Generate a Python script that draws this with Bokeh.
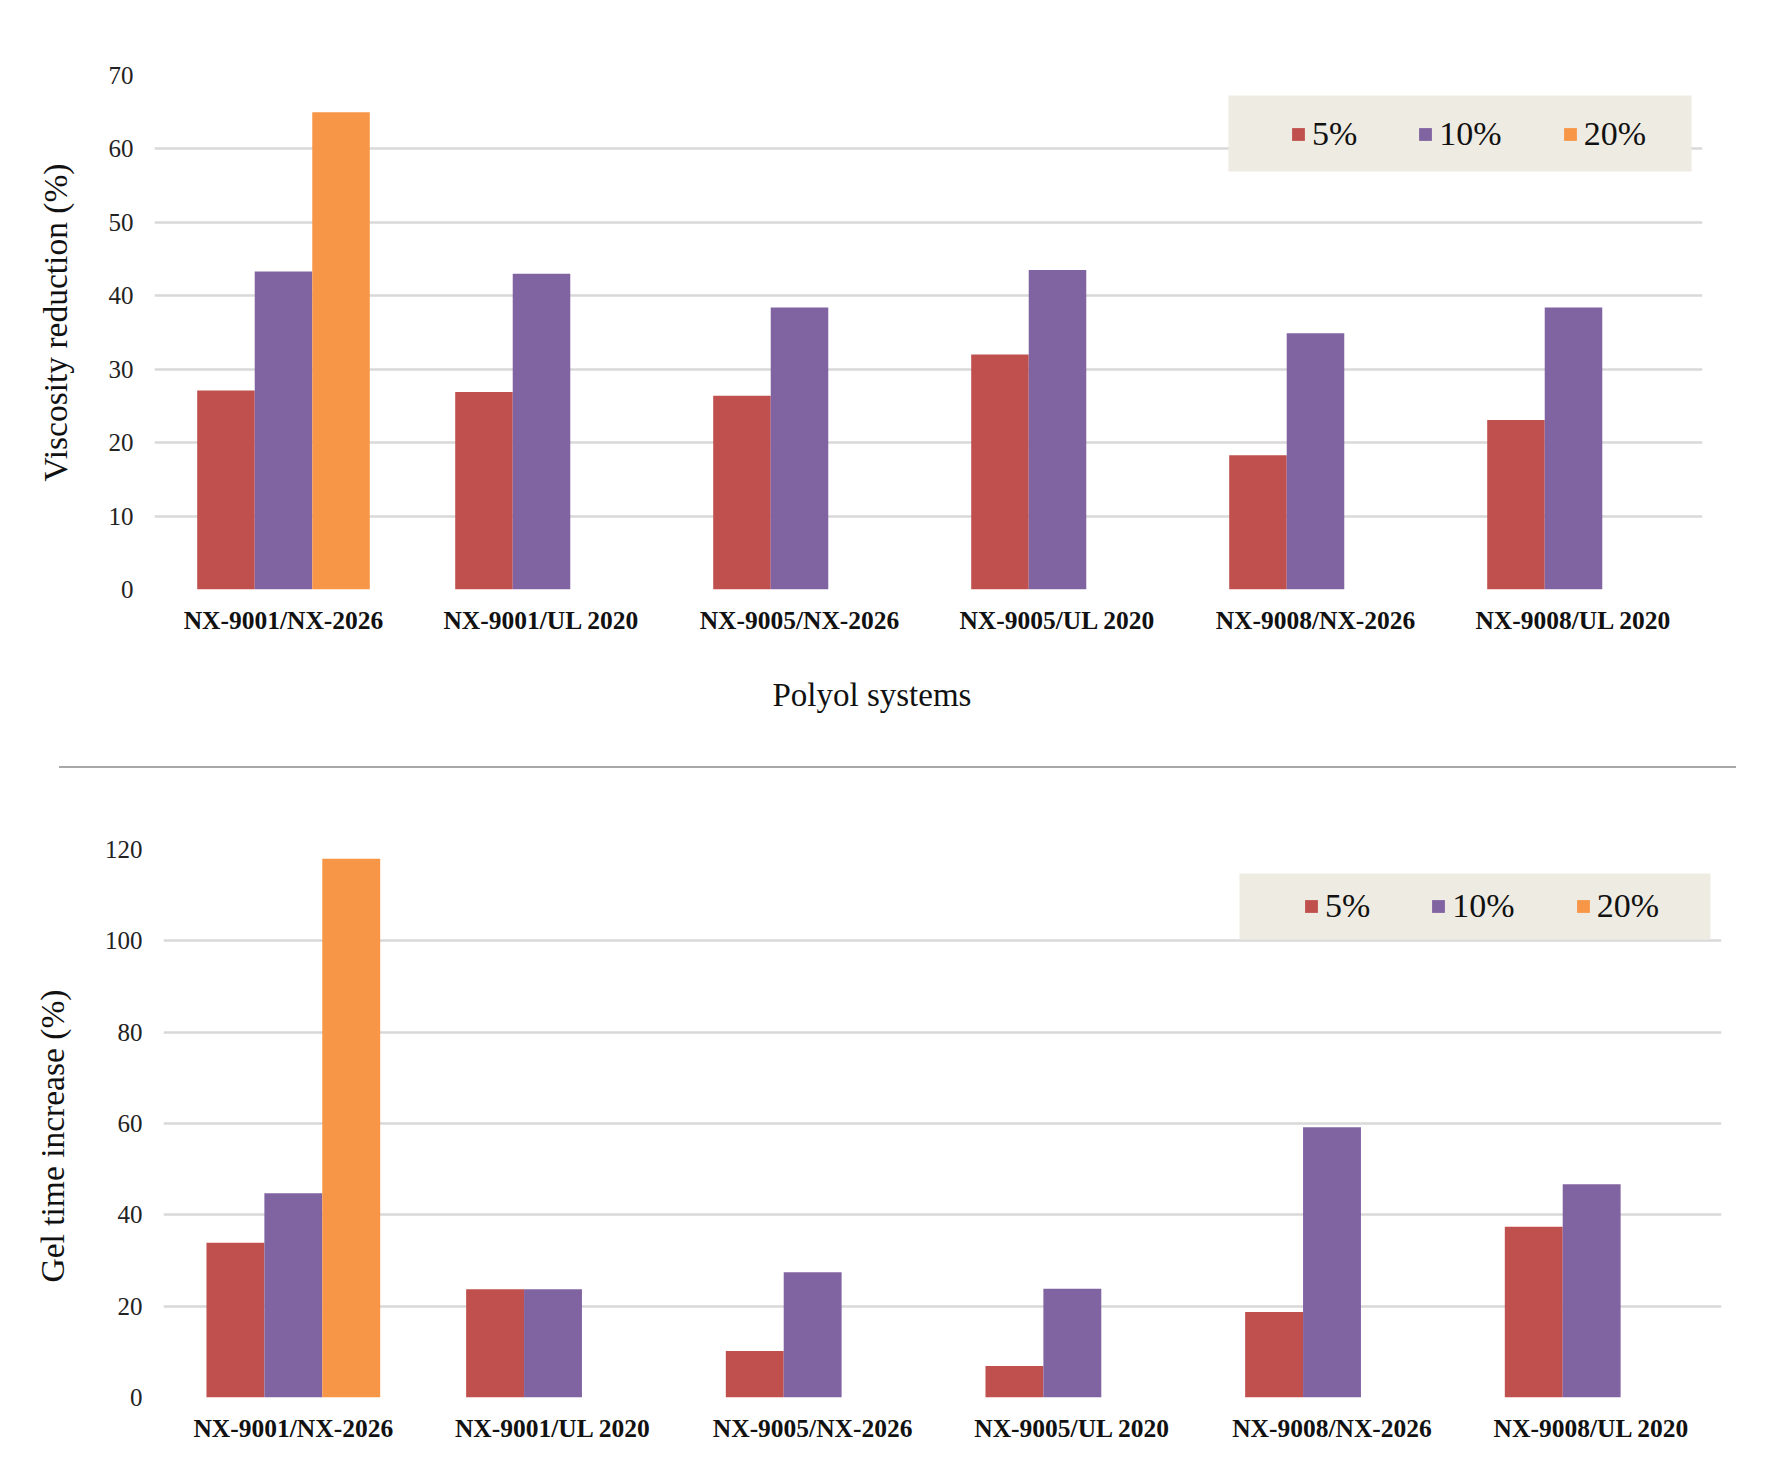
import math
from bokeh.plotting import figure
from bokeh.models import (ColumnDataSource, FactorRange, Range1d, FixedTicker,
                          Legend, LegendItem, BoxAnnotation, Title, Div)
from bokeh.layouts import column
from bokeh.transform import dodge
from bokeh.embed import file_html
from bokeh.resources import INLINE

nan = float("nan")

# ---------------- data ----------------
systems = ["NX-9001/NX-2026", "NX-9001/UL 2020", "NX-9005/NX-2026",
           "NX-9005/UL 2020", "NX-9008/NX-2026", "NX-9008/UL 2020"]
series_labels = ["5%", "10%", "20%"]

visc_5 = [27.1, 26.9, 26.4, 32.0, 18.3, 23.1]
visc_10 = [43.3, 43.0, 38.4, 43.5, 34.9, 38.4]
visc_20 = [65.0, nan, nan, nan, nan, nan]

gel_5 = [33.9, 23.7, 10.2, 6.9, 18.7, 37.4]
gel_10 = [44.7, 23.7, 27.4, 23.8, 59.2, 46.7]
gel_20 = [118.0, nan, nan, nan, nan, nan]

visc_ticks = [0, 10, 20, 30, 40, 50, 60, 70]
gel_ticks = [0, 20, 40, 60, 80, 100, 120]

colors = ["#C0504D", "#8064A2", "#F79646"]

FONT = "Liberation Serif"
W = 1787
BAR_W = 0.223


def make_chart(vals, ticks, ylabel, height, border, legend_px, box_px,
               ytitle_offset, ytitle_standoff, xlabel=None):
    left, right, top, bottom = border
    ymax = ticks[-1]
    p = figure(width=W, height=height,
               x_range=FactorRange(*systems, range_padding=0),
               y_range=Range1d(0, ymax),
               output_backend="svg", toolbar_location=None,
               min_border_left=left, min_border_right=right,
               min_border_top=top, min_border_bottom=bottom)
    p.frame_align = False
    p.title.visible = False
    p.outline_line_color = None
    p.background_fill_color = "white"

    frame_w = W - left - right
    frame_h = height - top - bottom
    cat_px = frame_w / len(systems)

    # background box for legend (data coordinates from pixel layout)
    bx0, bx1, by0, by1 = box_px  # absolute within figure
    box = BoxAnnotation(left=(bx0 - left) / cat_px, right=(bx1 - left) / cat_px,
                        top=ymax * (top + frame_h - by0) / frame_h,
                        bottom=ymax * (top + frame_h - by1) / frame_h,
                        fill_color="#EEEBE2", fill_alpha=1.0, line_color=None)

    src = ColumnDataSource(dict(sys=systems, s0=vals[0], s1=vals[1], s2=vals[2]))
    renderers = []
    for i, key in enumerate(["s0", "s1", "s2"]):
        r = p.vbar(x=dodge("sys", (i - 1) * BAR_W, range=p.x_range), top=key,
                   width=BAR_W, source=src, fill_color=colors[i],
                   line_color=None)
        renderers.append(r)

    p.add_layout(box)

    lx, ly = legend_px
    legend = Legend(items=[LegendItem(label=series_labels[i], renderers=[renderers[i]])
                           for i in range(3)],
                    orientation="horizontal",
                    location=(lx - left, top + frame_h - ly),
                    padding=0, margin=0, spacing=60,
                    glyph_width=16, glyph_height=16, label_standoff=6,
                    label_text_font=FONT, label_text_font_size="34px",
                    label_text_color="#111111",
                    background_fill_alpha=0, border_line_color=None)
    p.add_layout(legend)

    p.ygrid.grid_line_color = "#D9D9D9"
    p.ygrid.grid_line_width = 2.5
    p.xgrid.grid_line_color = None
    p.yaxis.ticker = FixedTicker(ticks=ticks)

    for ax in (p.xaxis[0], p.yaxis[0]):
        ax.axis_line_color = None
        ax.major_tick_line_color = None
        ax.minor_tick_line_color = None
        ax.major_tick_out = 0
        ax.major_tick_in = 0

    p.yaxis.major_label_text_font = FONT
    p.yaxis.major_label_text_font_size = "25px"
    p.yaxis.major_label_text_color = "#222222"
    p.yaxis.major_label_standoff = 21

    yt = Title(text=ylabel, align="left", offset=ytitle_offset,
               standoff=ytitle_standoff,
               text_font=FONT, text_font_size="33.5px",
               text_font_style="normal", text_color="#111111")
    p.add_layout(yt, "left")

    p.xaxis.major_label_text_font = FONT
    p.xaxis.major_label_text_font_size = "25.5px"
    p.xaxis.major_label_text_font_style = "bold"
    p.xaxis.major_label_text_color = "#111111"
    p.xaxis.major_label_standoff = 16

    if xlabel:
        t = Title(text=xlabel, align="left", offset=618, standoff=74,
                  text_font=FONT, text_font_size="33px",
                  text_font_style="normal", text_color="#111111")
        p.add_layout(t, "below")
    return p


p1 = make_chart([visc_5, visc_10, visc_20], visc_ticks, "Viscosity reduction (%)",
                height=766, border=(154, 85, 75, 177),
                legend_px=(1290, 153), box_px=(1228, 1691, 95, 171),
                ytitle_offset=108, ytitle_standoff=64, xlabel="Polyol systems")

sep = Div(width=1677, height=2, margin=(0, 0, 0, 59),
          styles={"background-color": "#A8A8A8"})

p2 = make_chart([gel_5, gel_10, gel_20], gel_ticks, "Gel time increase (%)",
                height=709, border=(163, 66, 81, 80),
                legend_px=(1303, 925 - 768), box_px=(1239, 1710, 873 - 768, 939 - 768),
                ytitle_offset=115, ytitle_standoff=61)

layout = column(p1, sep, p2, spacing=0)

open("out.html", "w").write(file_html(layout, INLINE))
